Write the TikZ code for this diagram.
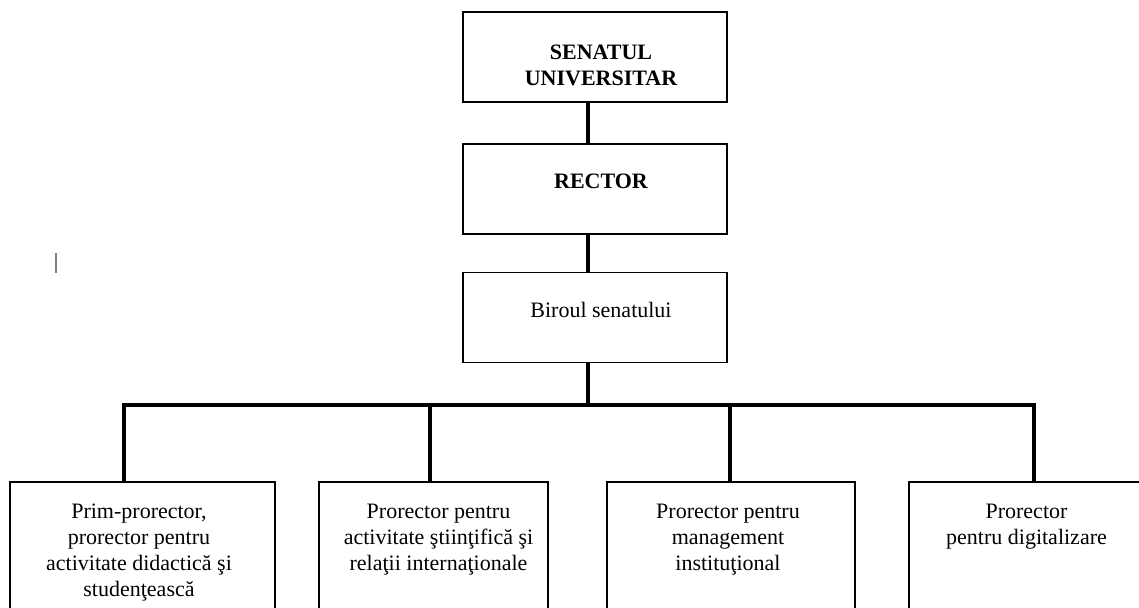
\documentclass[tikz,border=0pt]{standalone}
\usepackage{fontspec}
\setmainfont{Liberation Serif}
\usetikzlibrary{positioning}

\begin{document}
\begin{tikzpicture}[x=0.5pt,y=-0.5pt,
    box/.style={draw,line width=0.75pt,minimum width=132pt,minimum height=45pt,inner sep=0pt},
    lowbox/.style={draw,line width=0.75pt,minimum height=80pt,anchor=north,inner sep=0pt},
    txt/.style={inner sep=0pt,align=center,font=\fontsize{11}{13}\selectfont},
    head/.style={txt,font=\fontsize{11}{13}\selectfont\bfseries},
    link/.style={line width=2pt,line join=miter}]
  \useasboundingbox (0,0) rectangle (1139,607);
  \clip (0,0) rectangle (1139,607);

  % upper column
  \node[box] (senat) at (595,57) {};
  \node[box] (rector) at (595,189) {};
  \node[box] (birou) at (595,317.5) {};
  \node[head,below=16.5pt of senat.north,xshift=3pt] (senat-t) {SENATUL\\UNIVERSITAR};
  \node[head,below=15pt of rector.north,xshift=3pt] (rector-t) {RECTOR};
  \node[txt,below=15pt of birou.north,xshift=3pt] (birou-t) {Biroul senatului};

  % prorectors
  \node[lowbox,minimum width=132.5pt] (p1) at (142.5,481) {};
  \node[lowbox,minimum width=114.5pt] (p2) at (433.5,481) {};
  \node[lowbox,minimum width=124pt] (p3) at (731,481) {};
  \node[lowbox,minimum width=140pt] (p4) at (1049,481) {};
  \node[txt,below=11.5pt of p1.north,xshift=-1.75pt] (p1-t)
    {Prim-prorector,\\prorector pentru\\activitate didactică şi\\studenţească};
  \node[txt,below=11.5pt of p2.north,xshift=2.5pt] (p2-t)
    {Prorector pentru\\activitate ştiinţifică şi\\relaţii internaţionale};
  \node[txt,below=11.5pt of p3.north,xshift=-1.5pt] (p3-t)
    {Prorector pentru\\management\\instituţional};
  \node[txt,below=11.5pt of p4.north,xshift=-11.25pt] (p4-t)
    {Prorector\\pentru digitalizare};

  \coordinate (bus) at (588,405);
  \coordinate (j1) at (124,405);
  \coordinate (j2) at (430,405);
  \coordinate (j3) at (730,405);
  \coordinate (j4) at (1034,405);

  \draw[link] (senat.south -| bus) -- (rector.north -| bus);
  \draw[link] (rector.south -| bus) -- (birou.north -| bus);
  \draw[link] (birou.south -| bus) -- (bus);
  \draw[link] (p1.north -| j1) -- (j1) -- (j4) -- (p4.north -| j4);
  \draw[link] (j2) -- (p2.north -| j2);
  \draw[link] (j3) -- (p3.north -| j3);

  \draw[gray,line width=0.75pt] (56,253) -- (56,273);
\end{tikzpicture}
\end{document}
